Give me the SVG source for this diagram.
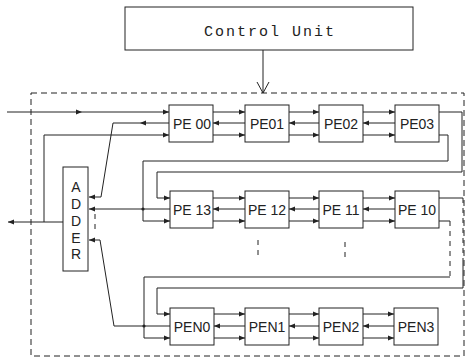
<svg xmlns="http://www.w3.org/2000/svg" width="470" height="360" viewBox="0 0 470 360">
<defs>
<style>
.bx{fill:#fff;stroke:#222;stroke-width:1}
.ln{fill:none;stroke:#222;stroke-width:1}
.ds{fill:none;stroke:#222;stroke-width:1;stroke-dasharray:6,4}
.dt{fill:none;stroke:#222;stroke-width:1;stroke-dasharray:5,5}
.lb{font-family:"Liberation Sans",Arial,sans-serif;font-size:14px;fill:#222;text-anchor:middle}
.cu{font-family:"Liberation Mono","DejaVu Sans Mono",monospace;font-size:15px;fill:#222;text-anchor:middle;letter-spacing:2px}
</style>
<marker id="ar" markerWidth="6" markerHeight="6" refX="6" refY="3" orient="auto" markerUnits="userSpaceOnUse">
<path d="M0,0.5 L6,3 L0,5.5 z" fill="#222"/>
</marker>
</defs>
<rect x="0" y="0" width="470" height="360" fill="#fff"/>

<g id="control-unit">
<rect class="bx" x="125" y="7" width="288" height="43"/>
<text class="cu" x="270" y="36">Control Unit</text>
</g>

<rect id="boundary" class="ds" x="31" y="93" width="433" height="263"/>

<g id="adder">
<rect class="bx" x="63" y="167" width="25" height="104"/>
<text class="lb" x="76" y="192">A</text>
<text class="lb" x="76" y="209">D</text>
<text class="lb" x="76" y="226">D</text>
<text class="lb" x="76" y="243">E</text>
<text class="lb" x="76" y="259">R</text>
</g>

<g id="connectors">
<!-- control unit to array -->
<path class="ln" d="M263,50 L263,93 M257,82 L263,93 L269,82"/>
<!-- row 0 inner -->
<path class="ln" marker-end="url(#ar)" d="M213,112 L245,112"/>
<path class="ln" marker-end="url(#ar)" d="M245,123 L213,123"/>
<path class="ln" marker-end="url(#ar)" d="M213,135 L245,135"/>
<path class="ln" marker-end="url(#ar)" d="M289,112 L319,112"/>
<path class="ln" marker-end="url(#ar)" d="M319,123 L289,123"/>
<path class="ln" marker-end="url(#ar)" d="M289,135 L319,135"/>
<path class="ln" marker-end="url(#ar)" d="M363,112 L395,112"/>
<path class="ln" marker-end="url(#ar)" d="M395,123 L363,123"/>
<path class="ln" marker-end="url(#ar)" d="M363,135 L395,135"/>
<!-- row 1 inner -->
<path class="ln" marker-end="url(#ar)" d="M213,198 L245,198"/>
<path class="ln" marker-end="url(#ar)" d="M245,209 L213,209"/>
<path class="ln" marker-end="url(#ar)" d="M213,221 L245,221"/>
<path class="ln" marker-end="url(#ar)" d="M289,198 L319,198"/>
<path class="ln" marker-end="url(#ar)" d="M319,209 L289,209"/>
<path class="ln" marker-end="url(#ar)" d="M289,221 L319,221"/>
<path class="ln" marker-end="url(#ar)" d="M363,198 L395,198"/>
<path class="ln" marker-end="url(#ar)" d="M395,209 L363,209"/>
<path class="ln" marker-end="url(#ar)" d="M363,221 L395,221"/>
<!-- row N inner -->
<path class="ln" marker-end="url(#ar)" d="M214,314 L245,314"/>
<path class="ln" marker-end="url(#ar)" d="M245,326 L214,326"/>
<path class="ln" marker-end="url(#ar)" d="M214,338 L245,338"/>
<path class="ln" marker-end="url(#ar)" d="M289,314 L319,314"/>
<path class="ln" marker-end="url(#ar)" d="M319,326 L289,326"/>
<path class="ln" marker-end="url(#ar)" d="M289,338 L319,338"/>
<path class="ln" marker-end="url(#ar)" d="M363,314 L394,314"/>
<path class="ln" marker-end="url(#ar)" d="M394,326 L363,326"/>
<path class="ln" marker-end="url(#ar)" d="M363,338 L394,338"/>
<!-- row 0 left side -->
<path class="ln" marker-end="url(#ar)" d="M7,112 L82,112"/>
<path class="ln" marker-end="url(#ar)" d="M82,112 L169,112"/>
<path class="ln" marker-end="url(#ar)" d="M169,123 L140,123"/>
<path class="ln" marker-end="url(#ar)" d="M140,123 L113,123 L101,197 L89,197"/>
<path class="ln" marker-end="url(#ar)" d="M63,222 L8,222"/>
<path class="ln" marker-end="url(#ar)" d="M44,222 L44,135 L169,135"/>
<!-- row 0 to row 1 -->
<path class="ln" marker-end="url(#ar)" d="M439,112 L462,112 L462,172 L157,172 L157,198 L170,198"/>
<path class="ln" marker-end="url(#ar)" d="M439,135 L448,135 L448,161 L143,161 L143,221 L170,221"/>
<!-- row 1 to adder -->
<path class="ln" marker-end="url(#ar)" d="M170,209 L89,209"/>
<circle cx="143" cy="209" r="1.6" fill="#222"/>
<!-- row 1 to row N -->
<path class="ln" d="M439,198 L463,198"/>
<path class="dt" d="M463,198 L463,262"/>
<path class="ln" marker-end="url(#ar)" d="M463,262 L463,288 L157,288 L157,314 L170,314"/>
<path class="ln" d="M439,221 L450,221"/>
<path class="dt" d="M450,221 L450,277"/>
<path class="ln" marker-end="url(#ar)" d="M450,277 L144,277 L144,338 L170,338"/>
<!-- row N to adder -->
<path class="ln" marker-end="url(#ar)" d="M170,326 L114,326 L100,240 L89,240"/>
<circle cx="144" cy="326" r="1.6" fill="#222"/>
<!-- continuation marks -->
<path class="dt" d="M95,214 L95,234"/>
<path class="dt" d="M258,240 L258,258"/>
<path class="dt" d="M345,242 L345,258"/>
</g>

<g id="pe00"><rect class="bx" x="169" y="105" width="44" height="37"/><text class="lb" x="192" y="129">PE 00</text></g>
<g id="pe01"><rect class="bx" x="245" y="105" width="44" height="37"/><text class="lb" x="267" y="129">PE01</text></g>
<g id="pe02"><rect class="bx" x="319" y="105" width="44" height="37"/><text class="lb" x="341" y="129">PE02</text></g>
<g id="pe03"><rect class="bx" x="395" y="105" width="44" height="37"/><text class="lb" x="417" y="129">PE03</text></g>

<g id="pe13"><rect class="bx" x="170" y="191" width="43" height="37"/><text class="lb" x="192" y="215">PE 13</text></g>
<g id="pe12"><rect class="bx" x="245" y="191" width="44" height="37"/><text class="lb" x="267" y="215">PE 12</text></g>
<g id="pe11"><rect class="bx" x="319" y="191" width="44" height="37"/><text class="lb" x="341" y="215">PE 11</text></g>
<g id="pe10"><rect class="bx" x="395" y="191" width="44" height="37"/><text class="lb" x="417" y="215">PE 10</text></g>

<g id="pen0"><rect class="bx" x="170" y="308" width="44" height="37"/><text class="lb" x="192" y="332">PEN0</text></g>
<g id="pen1"><rect class="bx" x="245" y="308" width="44" height="37"/><text class="lb" x="267" y="332">PEN1</text></g>
<g id="pen2"><rect class="bx" x="319" y="308" width="44" height="37"/><text class="lb" x="341" y="332">PEN2</text></g>
<g id="pen3"><rect class="bx" x="394" y="308" width="44" height="37"/><text class="lb" x="416" y="332">PEN3</text></g>
</svg>
